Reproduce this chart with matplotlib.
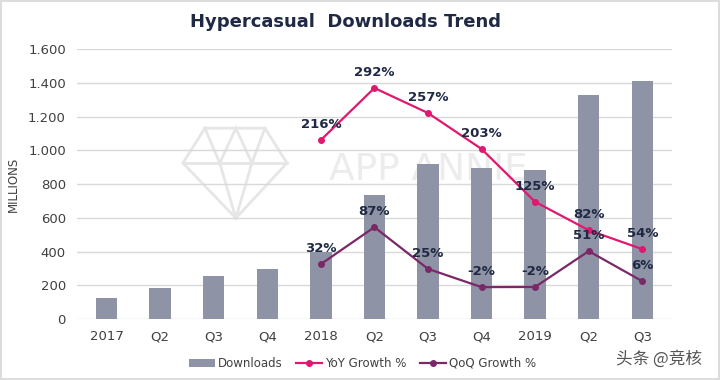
import numpy as np
import matplotlib.pyplot as plt
from matplotlib.lines import Line2D

# data
quarters = ["2017", "Q2", "Q3", "Q4", "2018", "Q2", "Q3", "Q4", "2019", "Q2", "Q3"]
downloads = [124, 185, 255, 296, 397, 735, 918, 895, 883, 1327, 1410]

growth_idx = [4, 5, 6, 7, 8, 9, 10]
yoy_pos = [1061, 1369, 1221, 1008, 695, 527, 415]
yoy_labels = ["216%", "292%", "257%", "203%", "125%", "82%", "54%"]
qoq_pos = [326, 545, 298, 190, 191, 403, 225]
qoq_labels = ["32%", "87%", "25%", "-2%", "-2%", "51%", "6%"]

yticks = [0, 200, 400, 600, 800, 1000, 1200, 1400, 1600]
ytick_labels = ["0", "200", "400", "600", "800", "1.000", "1.200", "1.400", "1.600"]

BAR = "#8e93a5"
YOY = "#e0186f"
QOQ = "#7b2869"
NAVY = "#1f2944"
TXT = "#404040"
WM = "#e6e6e6"

fig = plt.figure(figsize=(7.2, 3.8), dpi=100)
fig.patch.set_edgecolor("#dcdcdc")
fig.patch.set_linewidth(1.5)
ax = fig.add_axes([0.107, 0.16, 0.826, 0.711])

x = np.arange(len(quarters))

# faint logo watermark behind the chart (axes fraction)
wm_lines = [
    ([0.215, 0.316, 0.353, 0.267, 0.178, 0.215], [0.707, 0.707, 0.578, 0.374, 0.578, 0.707]),
    ([0.178, 0.353], [0.578, 0.578]),
    ([0.215, 0.240, 0.267], [0.707, 0.578, 0.374]),
    ([0.316, 0.294, 0.267], [0.707, 0.578, 0.374]),
    ([0.240, 0.267, 0.294], [0.578, 0.707, 0.578]),
]
for lx, ly in wm_lines:
    ax.add_line(Line2D(lx, ly, transform=ax.transAxes, color=WM, lw=2,
                       solid_joinstyle="miter", zorder=0))
ax.text(0.59, 0.552, "APP ANNIE", transform=ax.transAxes, ha="center", va="center",
        fontsize=27, color="#ececec", family="DejaVu Sans", zorder=0)

bars = ax.bar(x, downloads, width=0.4, color=BAR, zorder=2, label="Downloads")
l1, = ax.plot(growth_idx, yoy_pos, color=YOY, lw=1.6, marker="o", ms=4, zorder=3,
              label="YoY Growth %")
l2, = ax.plot(growth_idx, qoq_pos, color=QOQ, lw=1.6, marker="o", ms=4, zorder=3,
              label="QoQ Growth %")

for i, v, s in zip(growth_idx, yoy_pos, yoy_labels):
    ax.annotate(s, (i, v), xytext=(0, 11), textcoords="offset points",
                ha="center", va="center", fontsize=9.5, fontweight="bold",
                color=NAVY, zorder=4)
for i, v, s in zip(growth_idx, qoq_pos, qoq_labels):
    ax.annotate(s, (i, v), xytext=(0, 11), textcoords="offset points",
                ha="center", va="center", fontsize=9.5, fontweight="bold",
                color=NAVY, zorder=4)

ax.set_xlim(-0.55, len(quarters) - 0.45)
ax.set_ylim(0, 1600)
ax.set_yticks(yticks)
ax.set_yticklabels(ytick_labels)
ax.set_xticks(x)
ax.set_xticklabels(quarters)
ax.tick_params(length=0, labelsize=9.5, labelcolor=TXT, pad=8)
ax.grid(axis="y", color="#d9d9d9", lw=1, zorder=1)
for sp in ax.spines.values():
    sp.set_visible(False)
ax.set_ylabel("MILLIONS", fontsize=8.5, color=TXT, labelpad=6)

fig.text(0.48, 0.942, "Hypercasual  Downloads Trend", ha="center", va="center",
         fontsize=13, fontweight="bold", color=NAVY)

ax.legend([bars, l1, l2], ["Downloads", "YoY Growth %", "QoQ Growth %"],
          loc="upper center", bbox_to_anchor=(0.48, -0.1), ncol=3, frameon=False,
          fontsize=8.5, labelcolor=TXT, handlelength=2.2, columnspacing=1.2,
          handletextpad=0.2)

fig.text(0.975, 0.055, "头条 @竞核", ha="right", va="center", fontsize=12,
         color="#555555", family=["Noto Sans CJK SC", "DejaVu Sans"])

fig.savefig("out.png", dpi=100)
